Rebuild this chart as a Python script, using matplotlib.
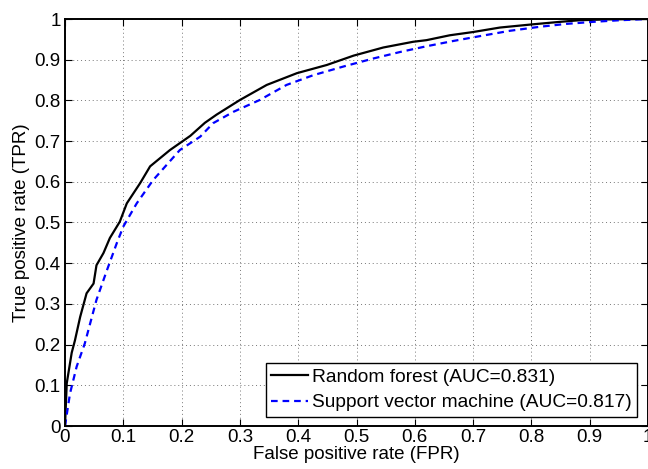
import matplotlib
matplotlib.use("Agg")
import matplotlib.pyplot as plt
import numpy as np

# ROC curves
rf_fpr = [0, 0.003, 0.0115, 0.017, 0.026, 0.037, 0.049, 0.054, 0.066, 0.077, 0.094,
          0.106, 0.129, 0.146, 0.18, 0.215, 0.24, 0.26, 0.28, 0.3, 0.346, 0.398, 0.449,
          0.495, 0.546, 0.597, 0.62, 0.66, 0.7, 0.746, 0.803, 0.849, 0.883, 0.93, 1.0]
rf_tpr = [0, 0.105, 0.18, 0.21, 0.268, 0.326, 0.35, 0.395, 0.425, 0.462, 0.502,
          0.547, 0.597, 0.638, 0.678, 0.713, 0.745, 0.765, 0.783, 0.801, 0.838, 0.867, 0.887,
          0.91, 0.93, 0.944, 0.948, 0.96, 0.968, 0.979, 0.987, 0.993, 0.997, 0.999, 1.0]

svm_fpr = [0, 0.0086, 0.02, 0.034, 0.054, 0.072, 0.089, 0.1, 0.123, 0.151, 0.197,
           0.232, 0.254, 0.289, 0.334, 0.38, 0.426, 0.477, 0.529, 0.575, 0.62, 0.666,
           0.712, 0.763, 0.815, 0.86, 0.906, 0.952, 1.0]
svm_tpr = [0, 0.08, 0.146, 0.203, 0.31, 0.383, 0.45, 0.49, 0.547, 0.604, 0.678,
           0.711, 0.744, 0.772, 0.801, 0.838, 0.862, 0.883, 0.903, 0.919, 0.933, 0.946,
           0.958, 0.971, 0.981, 0.988, 0.993, 0.997, 1.0]

labels = ["Random forest (AUC=0.831)", "Support vector machine (AUC=0.817)"]
ticks = np.arange(0, 1.01, 0.1)
tick_labels = ["0", "0.1", "0.2", "0.3", "0.4", "0.5", "0.6", "0.7", "0.8", "0.9", "1"]

plt.rcParams['font.family'] = ['Liberation Sans', 'DejaVu Sans']
plt.rcParams['font.size'] = 13.5

fig = plt.figure(figsize=(6.48, 4.69), dpi=100)
ax = fig.add_axes([65 / 648, 1 - 426 / 469, 583 / 648, 407 / 469])

ax.plot(rf_fpr, rf_tpr, color='black', lw=1.6, label=labels[0])
ax.plot(svm_fpr, svm_tpr, color='blue', lw=1.6, ls=(0, (3, 2.2)), label=labels[1])

ax.set_xlim(0, 1)
ax.set_ylim(0, 1)
ax.set_xticks(ticks)
ax.set_yticks(ticks)
ax.set_xticklabels(tick_labels)
ax.set_yticklabels(tick_labels)
ax.tick_params(direction='in', length=5, width=0.8, top=True, right=True, pad=2,
               labelsize=13.5)
ax.tick_params(axis='y', pad=3)
ax.grid(True, ls=(0, (1, 3)), color='#777777', lw=0.7)
for s in ax.spines.values():
    s.set_linewidth(1.4)

ax.set_xlabel("False positive rate (FPR)", labelpad=0)
ax.set_ylabel("True positive rate (TPR)", labelpad=3)

leg = ax.legend(loc='lower right', bbox_to_anchor=(1 - 11 / 583, 9 / 407),
                borderaxespad=0, fancybox=False, framealpha=1, edgecolor='black',
                handlelength=1.9, handletextpad=0.2, borderpad=0.3,
                labelspacing=0.42, fontsize=13.8)
leg.get_frame().set_linewidth(1.0)

fig.savefig("out.png", dpi=100)
